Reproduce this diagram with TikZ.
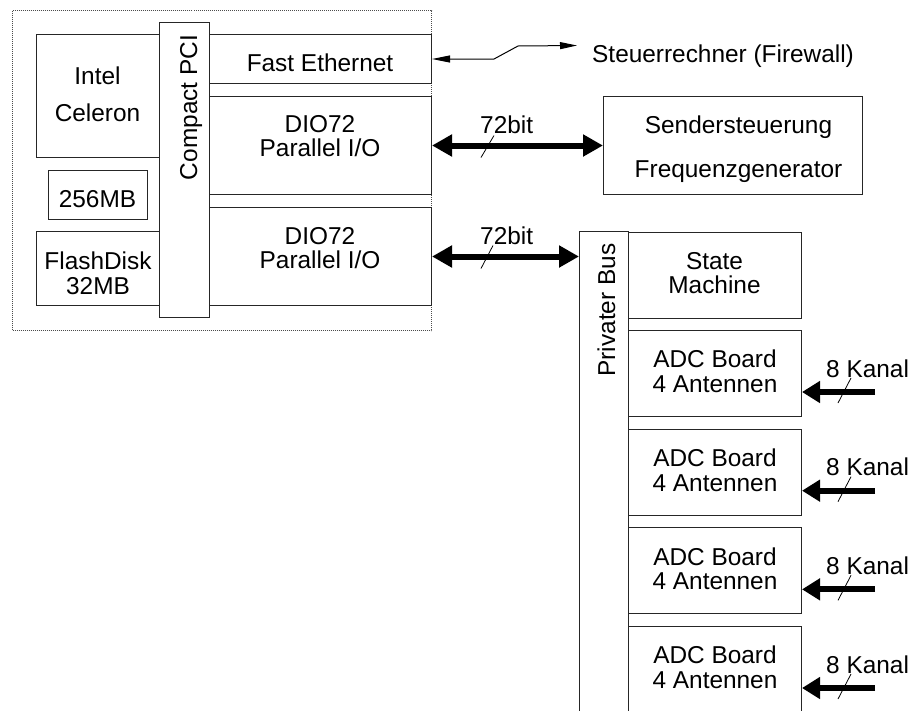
\documentclass[tikz,border=0pt]{standalone}
\usepackage{fontspec}
\setmainfont{Liberation Sans}
\usetikzlibrary{arrows.meta,calc}
\begin{document}
\begin{tikzpicture}[x=1pt,y=-1pt,
  every node/.style={font=\fontsize{24.4}{24.5}\selectfont, inner sep=0pt},
  blk/.style={draw=black!85, line width=1pt, rectangle, anchor=north west, inner sep=0pt},
  frame/.style={draw=black!70, line width=1pt, dash pattern=on 1pt off 1pt, rectangle, anchor=north west, inner sep=0pt},
  txt/.style={align=center, anchor=north},
  lbl/.style={anchor=base west},
  wide/.style={line width=6pt, {Triangle[length=20pt,width=21pt]}-{Triangle[length=20pt,width=21pt]}},
  feed/.style={line width=6pt, -{Triangle[length=18pt,width=21pt]}},
  link/.style={line width=1pt, {Triangle[length=18pt,width=7pt]}-{Triangle[length=17pt,width=7pt]}},
  tick/.style={line width=0.8pt}
]
\useasboundingbox (0,0) rectangle (912,710);
\clip (0,0) rectangle (912,710);

% embedded host computer
\node[frame, minimum width=419pt, minimum height=320pt] (host) at (12,10) {};
\node[blk, minimum width=123pt, minimum height=123pt] (cpu) at (36,34) {};
\node[blk, minimum width=99pt, minimum height=49pt] (mem) at (48,170) {};
\node[blk, minimum width=123pt, minimum height=74pt] (flash) at (36,231) {};
\node[blk, minimum width=50pt, minimum height=295pt] (pci) at (159,22) {};
\node[blk, minimum width=222pt, minimum height=49pt] (eth) at (209,34) {};
\node[blk, minimum width=222pt, minimum height=98pt] (dio1) at (209,96) {};
\node[blk, minimum width=222pt, minimum height=98pt] (dio2) at (209,207) {};

\node[txt] (cpuT) at (97.5,67) {Intel\\[12.5pt]Celeron};
\node[anchor=base] (memT) at (97.5,207) {256MB};
\node[txt] (flashT) at (98,252) {FlashDisk\\32MB};
\node[rotate=90, anchor=base] (pciT) at (197,107.5) {Compact PCI};
\node[anchor=base] (ethT) at (320,71) {Fast Ethernet};
\node[txt] (dio1T) at (320,115) {DIO72\\Parallel I/O};
\node[txt] (dio2T) at (320,227) {DIO72\\Parallel I/O};

% transmitter control
\node[blk, minimum width=259pt, minimum height=98pt] (send) at (603,96) {};
\node[txt] (sendT) at (738.5,116) {Sendersteuerung\\[19.5pt]Frequenzgenerator};

% private bus with state machine and ADC boards
\node[blk, minimum width=49pt, minimum height=500pt] (pbus) at (579,231) {};
\node[rotate=90, anchor=base] (pbusT) at (615,310) {Privater Bus};
\node[blk, minimum width=173pt, minimum height=86pt] (sm) at (628,232) {};
\node[txt] (smT) at (714.5,252) {State\\Machine};

\foreach \k in {0,...,3}{
  \node[blk, minimum width=173pt, minimum height=86pt] (adc\k) at (628,{330+98.67*\k}) {};
  \node[txt] (adcT\k) at (715,{350+98.67*\k}) {ADC Board\\4 Antennen};
  \coordinate (in\k) at (875,{392+98.67*\k});
  \draw[feed] (in\k) -- (in\k -| adc\k.east);
  \draw[tick] ($(in\k)+(-37,11)$) -- ++(13,-25);
  \node[lbl] (kanT\k) at (826,{377+98.67*\k}) {8 Kanal};
}

% Ethernet link to the control computer
\coordinate (fw) at (577,45.5);
\draw[link] (eth.east) -- ++(62,0) -- ++(24,-13) -- (fw);
\node[lbl] (fwT) at (592,62) {Steuerrechner (Firewall)};

% 72 bit parallel links
\draw[wide] (dio1.east) -- (send.west);
\draw[tick] ($(dio1.east)+(49,12)$) -- ++(13,-22);
\node[lbl] (bit1T) at (480,133) {72bit};
\draw[wide] (dio2.east) -- (dio2.east -| pbus.west);
\draw[tick] ($(dio2.east)+(49,12)$) -- ++(12,-23);
\node[lbl] (bit2T) at (480,244) {72bit};
\end{tikzpicture}
\end{document}
